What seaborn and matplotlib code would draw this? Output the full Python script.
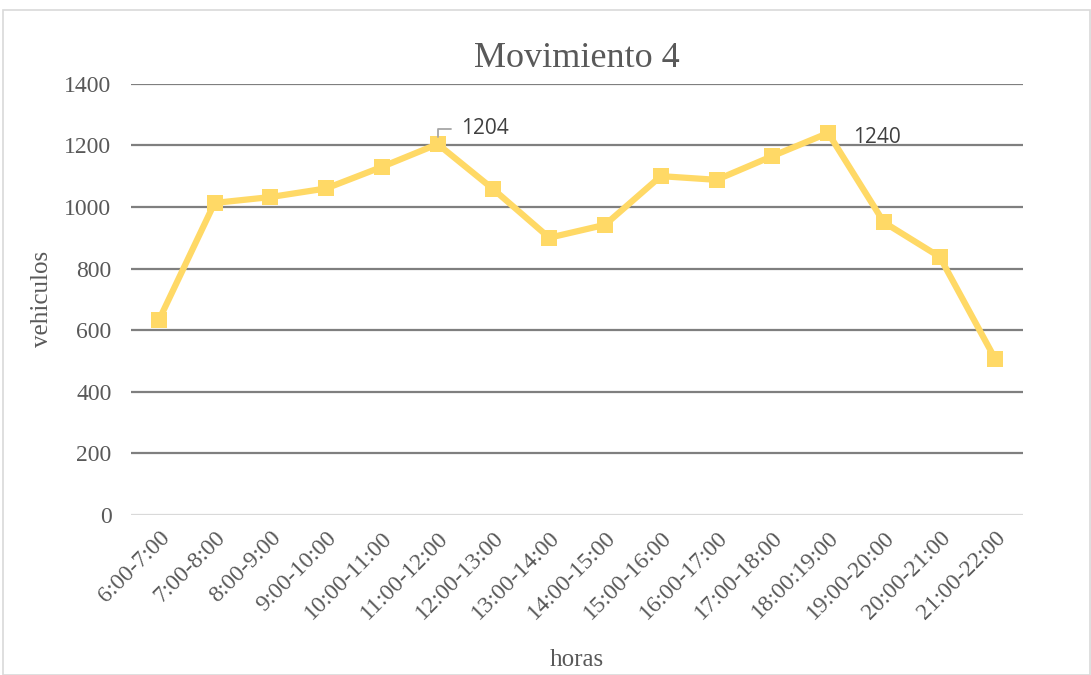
import matplotlib

matplotlib.use("Agg")

import matplotlib.pyplot as plt
import pandas as pd
import seaborn as sns
from matplotlib.patches import Rectangle

# values
horas = [
    "6:00-7:00", "7:00-8:00", "8:00-9:00", "9:00-10:00", "10:00-11:00",
    "11:00-12:00", "12:00-13:00", "13:00-14:00", "14:00-15:00", "15:00-16:00",
    "16:00-17:00", "17:00-18:00", "18:00:19:00", "19:00-20:00", "20:00-21:00",
    "21:00-22:00",
]
vehiculos = [632, 1013, 1032, 1060, 1130, 1204, 1057, 900, 942, 1100,
             1088, 1165, 1240, 950, 838, 505]
etiquetas = {5: "1204", 12: "1240"}

YELLOW = "#FFD966"
GRID = "#7F7F7F"
TEXT = "#595959"

sns.set_theme(style="white")
plt.rcParams["font.family"] = ["Liberation Serif", "DejaVu Serif"]

df = pd.DataFrame({"horas": horas, "vehiculos": vehiculos})
df["pos"] = range(len(df))

fig = plt.figure(figsize=(10.91, 6.75), dpi=100)
fig.patches.append(Rectangle((0.003, 0.0), 0.996, 0.985, transform=fig.transFigure,
                             facecolor="none", edgecolor="#D9D9D9", lw=1.2))
ax = fig.add_axes([0.120, 0.237, 0.818, 0.639])

sns.lineplot(data=df, x="pos", y="vehiculos", color=YELLOW, lw=4.5, marker="s",
             markersize=11, markeredgewidth=0, ax=ax, zorder=3)

ax.set_xlim(-0.5, len(horas) - 0.5)
ax.set_ylim(0, 1400)
ax.set_yticks(range(0, 1401, 200))
for y in range(200, 1401, 200):
    ax.axhline(y, color=GRID, lw=1.6, zorder=1)
ax.axhline(0, color="#D9D9D9", lw=1.6, zorder=1)
for s in ax.spines.values():
    s.set_visible(False)

ax.set_xticks(df["pos"])
ax.set_xticklabels(horas, rotation=45, ha="right", rotation_mode="anchor")
ax.tick_params(axis="both", length=0, labelsize=17, colors=TEXT)
ax.tick_params(axis="x", pad=9)
ax.tick_params(axis="y", pad=14)

ax.set_xlabel("horas", fontsize=18, color=TEXT, labelpad=18)
ax.set_ylabel("vehiculos", fontsize=18, color=TEXT, labelpad=8)
ax.set_title("Movimiento 4", fontsize=26, color=TEXT, pad=12)

# data labels
i = 5
ax.annotate(etiquetas[i], xy=(i, vehiculos[i]), xytext=(17, 11), textcoords="offset points",
            fontsize=15, color="#404040", family="Open Sans", va="center", ha="left",
            arrowprops=dict(arrowstyle="-", color="#A6A6A6", lw=1.3,
                            connectionstyle="angle,angleA=0,angleB=90,rad=0",
                            shrinkA=5, shrinkB=5))
i = 12
ax.annotate(etiquetas[i], xy=(i, vehiculos[i]), xytext=(18, -3), textcoords="offset points",
            fontsize=15, color="#404040", family="Open Sans", va="center", ha="left")

fig.savefig("out.png", dpi=100)
